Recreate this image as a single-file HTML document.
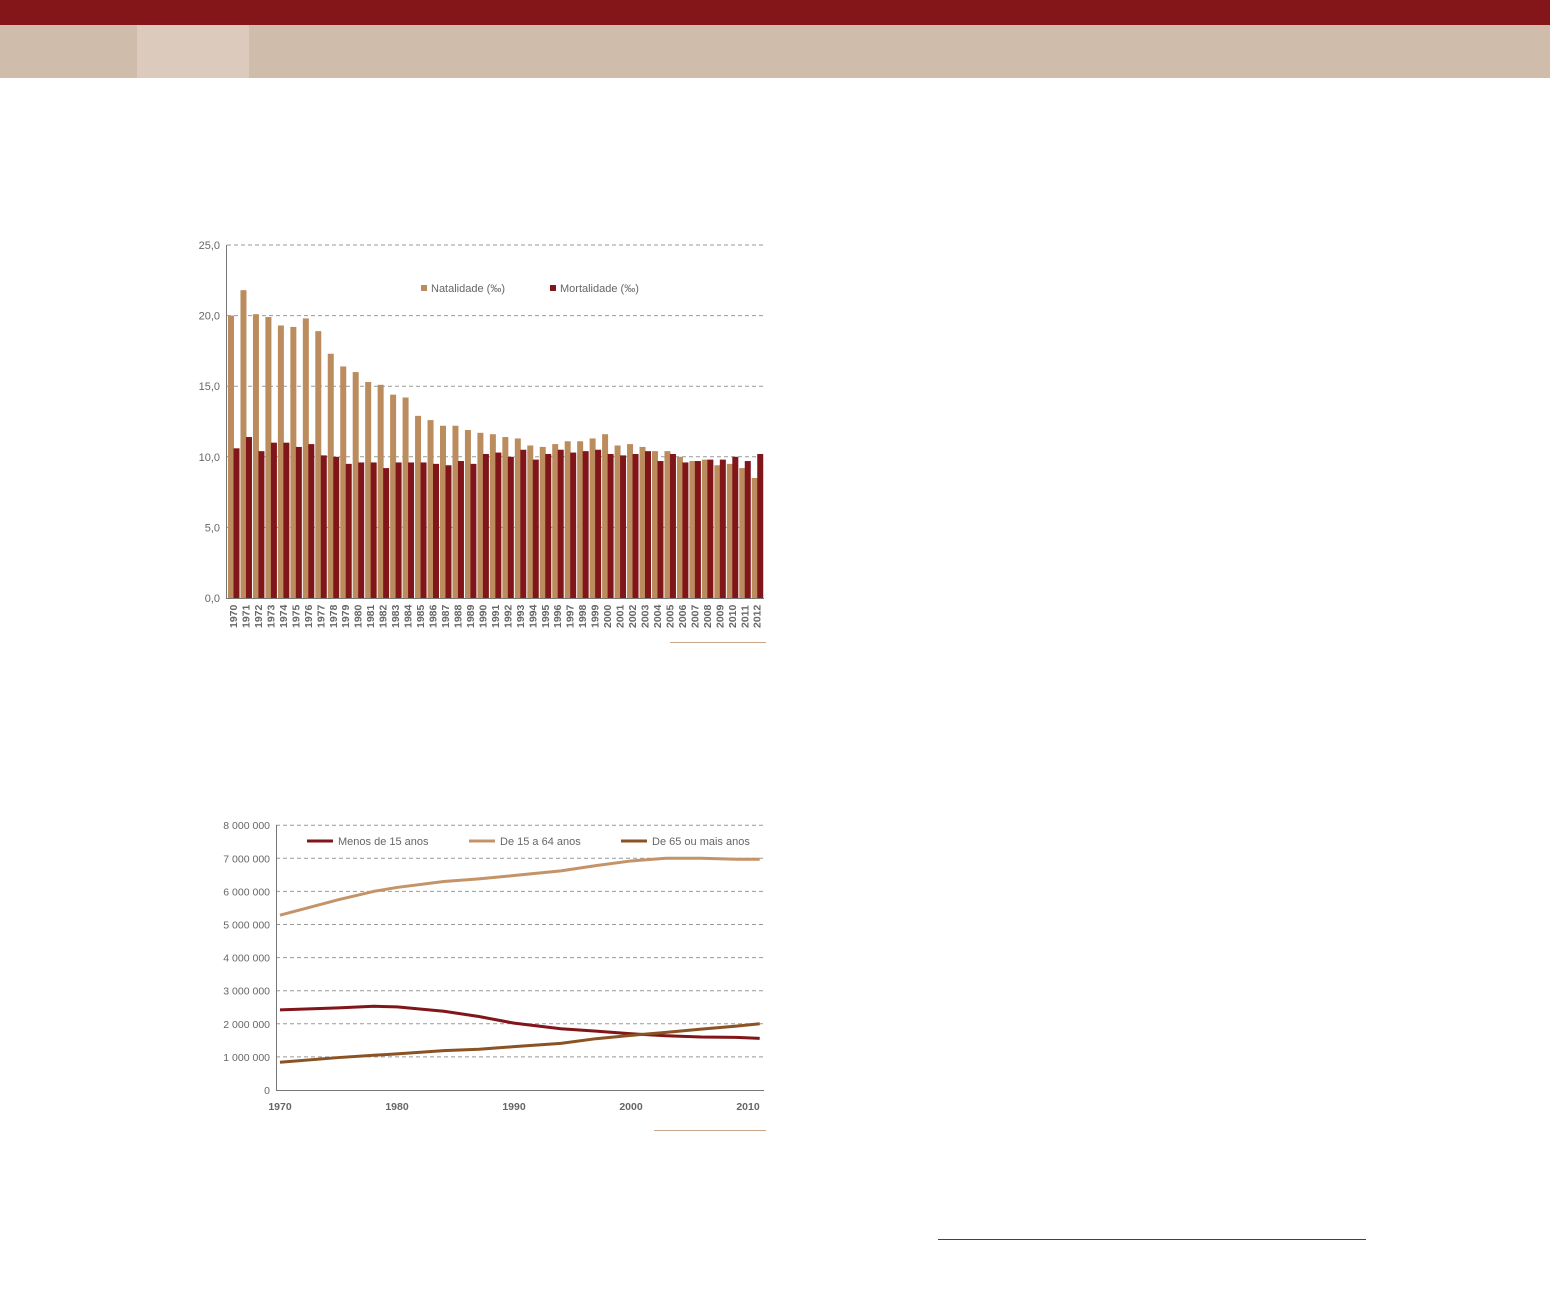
<!DOCTYPE html>
<html><head><meta charset="utf-8"><style>
body{margin:0;background:#fff;width:1550px;height:1300px;overflow:hidden;position:relative;font-family:"Liberation Sans",sans-serif}
.a{position:absolute}
</style></head><body>
<div class="a" style="left:0;top:0;width:1550px;height:25px;background:#84161a"></div>
<div class="a" style="left:0;top:25px;width:1550px;height:53px;background:#d0bcab"></div>
<div class="a" style="left:137px;top:25px;width:112px;height:53px;background:#dccbbd"></div>
<div class="a" style="left:670px;top:642px;width:96px;height:1px;background:#c9a58a"></div>
<div class="a" style="left:654px;top:1130px;width:112px;height:1px;background:#c9a58a"></div>
<div class="a" style="left:938px;top:1239px;width:428px;height:1px;background:#7a2a40"></div>
<svg class="a" style="left:0;top:0" width="1550" height="1300">
<g id="bar"></g>
<g id="line"></g>
</svg>
<script>
const years=[];for(let y=1970;y<=2012;y++)years.push(y);
const natalidade=[20.0,21.8,20.1,19.9,19.3,19.2,19.8,18.9,17.3,16.4,16.0,15.3,15.1,14.4,14.2,12.9,12.6,12.2,12.2,11.9,11.7,11.6,11.4,11.3,10.8,10.7,10.9,11.1,11.1,11.3,11.6,10.8,10.9,10.7,10.4,10.4,10.0,9.7,9.8,9.4,9.5,9.2,8.5];
const mortalidade=[10.6,11.4,10.4,11.0,11.0,10.7,10.9,10.1,10.0,9.5,9.6,9.6,9.2,9.6,9.6,9.6,9.5,9.4,9.7,9.5,10.2,10.3,10.0,10.5,9.8,10.2,10.5,10.3,10.4,10.5,10.2,10.1,10.2,10.4,9.7,10.2,9.6,9.7,9.8,9.8,10.0,9.7,10.2];
const barTicks=["0,0","5,0","10,0","15,0","20,0","25,0"];
const lineYears=[1970,1975,1978,1980,1984,1987,1990,1994,1997,2000,2003,2006,2009,2011];
const menos15=[2.42,2.48,2.53,2.51,2.38,2.22,2.02,1.85,1.78,1.7,1.64,1.6,1.59,1.56];
const de15a64=[5.28,5.75,6.0,6.12,6.3,6.38,6.48,6.62,6.78,6.92,7.0,7.0,6.97,6.97];
const de65=[0.84,0.98,1.05,1.09,1.19,1.23,1.31,1.41,1.55,1.65,1.74,1.84,1.93,2.0];
const lineTicks=["0","1 000 000","2 000 000","3 000 000","4 000 000","5 000 000","6 000 000","7 000 000","8 000 000"];
const xTicks=[1970,1980,1990,2000,2010];
const NS="http://www.w3.org/2000/svg";
function mk(p,t,at){const e=document.createElementNS(NS,t);for(const k in at)e.setAttribute(k,at[k]);p.appendChild(e);return e;}
// bar chart
const B=document.getElementById('bar');
const by=v=>598-v*14.12, x0=227, gw=12.47;
barTicks.forEach((t,i)=>{const y=by(i*5);
 if(i>0){const g=mk(B,'line',{x1:227,x2:763,y1:y,y2:y,stroke:'#999','stroke-dasharray':'4,3'});
 }
 const tx=mk(B,'text',{x:220,y:y+4,'text-anchor':'end','font-size':11,fill:'#666'});tx.textContent=t;
 });
years.forEach((yr,i)=>{const x=x0+i*gw;
 const r1=mk(B,'rect',{x:x+1,y:by(natalidade[i]),width:6,height:natalidade[i]*14.12,fill:'#bb8c5e'});
 
 const r2=mk(B,'rect',{x:x+6.5,y:by(mortalidade[i]),width:6,height:mortalidade[i]*14.12,fill:'#80151a'});
 
 const tx=mk(B,'text',{x:0,y:0,transform:`translate(${x+10},628) rotate(-90)`,'font-size':10.5,'font-weight':'bold',fill:'#666'});tx.textContent=yr;
 });
const ax=mk(B,'line',{x1:226.5,x2:226.5,y1:245,y2:598,stroke:'#777'});
const ax2=mk(B,'line',{x1:226,x2:764,y1:598.5,y2:598.5,stroke:'#777'});
[[421,'#bb8c5e','Natalidade (‰)','legend-natalidade'],[550,'#80151a','Mortalidade (‰)','legend-mortalidade']].forEach(l=>{
 const g=mk(B,'g',{});
 mk(g,'rect',{x:l[0],y:285,width:6,height:6,fill:l[1]});const t=mk(g,'text',{x:l[0]+10,y:292,'font-size':11,fill:'#666'});t.textContent=l[2];});
// line chart
const L=document.getElementById('line');
const lx=y=>280+(y-1970)*11.7, ly=v=>1090-v*33.1;
lineTicks.forEach((t,i)=>{const y=ly(i);
 if(i>0){const g=mk(L,'line',{x1:276,x2:764,y1:y,y2:y,stroke:'#999','stroke-dasharray':'4,3'});
 }
 const tx=mk(L,'text',{x:270,y:y+4,'text-anchor':'end','font-size':10.5,fill:'#666'});tx.textContent=t;
 });
const la=mk(L,'line',{x1:276,x2:764,y1:1090.5,y2:1090.5,stroke:'#777'});
const lay=mk(L,'line',{x1:276.5,x2:276.5,y1:825,y2:1091,stroke:'#777'});
xTicks.forEach(yr=>{const t=mk(L,'text',{x:lx(yr),y:1110,'text-anchor':'middle','font-size':10.5,'font-weight':'bold',fill:'#666'});t.textContent=yr;
 });
[[menos15,'#80151a','line-menos-15'],[de15a64,'#c49468','line-15-64'],[de65,'#8b5224','line-65-mais']].forEach(s=>{
 const p=mk(L,'polyline',{points:lineYears.map((y,i)=>lx(y)+','+ly(s[0][i])).join(' '),fill:'none',stroke:s[1],'stroke-width':3,'stroke-linejoin':'round'});
 });
[[307,'#80151a','Menos de 15 anos','legend-menos-15'],[469,'#c49468','De 15 a 64 anos','legend-15-64'],[621,'#8b5224','De 65 ou mais anos','legend-65-mais']].forEach(l=>{
 const g=mk(L,'g',{});
 mk(g,'line',{x1:l[0],x2:l[0]+26,y1:841,y2:841,stroke:l[1],'stroke-width':3});
 const t=mk(g,'text',{x:l[0]+31,y:845,'font-size':11,fill:'#666'});t.textContent=l[2];});
</script>
</body></html>
